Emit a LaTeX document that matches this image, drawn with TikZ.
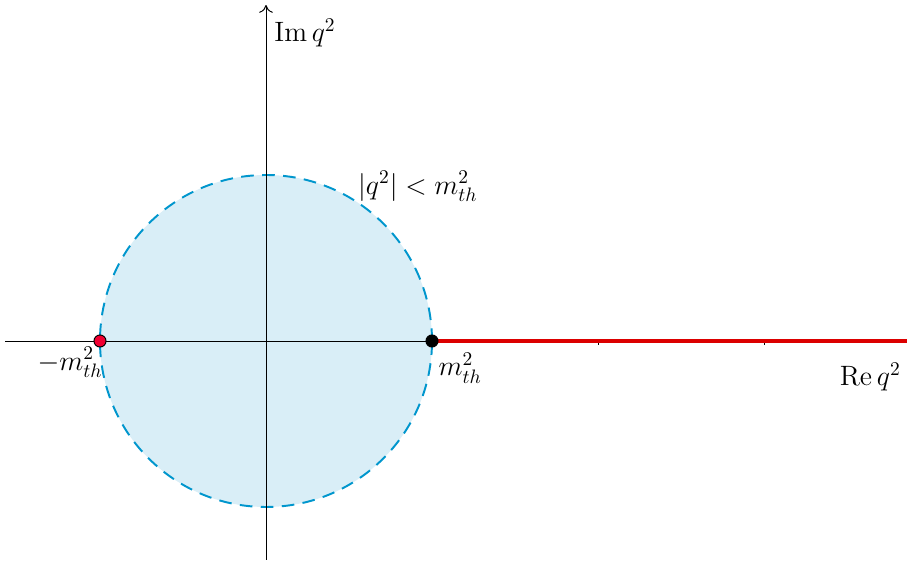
\documentclass[tikz,border=0pt]{standalone}
\usepackage{amsmath}
\usetikzlibrary{arrows.meta,positioning}
\definecolor{diskFill}{RGB}{217,238,247}
\definecolor{diskBorder}{RGB}{0,150,205}
\definecolor{cutRed}{RGB}{220,0,0}
\definecolor{poleRed}{RGB}{240,0,50}

\begin{document}
\begin{tikzpicture}[x=3cm, y=3cm,
    disk/.style={
      draw=diskBorder, fill=diskFill, line width=1pt,
      dash pattern=on 6.5pt off 4.3pt
    },
    axis/.style={line width=0.5pt, draw=black},
    cut/.style={line width=1.8pt, draw=cutRed},
    dot/.style={circle, draw=black, line width=0.5pt, inner sep=0pt, minimum size=6.2pt},
    lbl/.style={font=\Large}
  ]
    \useasboundingbox (-1.6024,-1.3253) rectangle (3.8614,2.0542);

    % disk |q^2| < m_th^2
    \draw[disk] (0,0) circle (1);

    % axes
    \coordinate (xl) at (-1.572,0);
    \coordinate (xr) at (3.8614,0);
    \coordinate (yb) at (0,-1.319);
    \coordinate (yt) at (0,2.024);
    \draw[axis] (xl) -- (xr);
    \draw[axis, -{To[length=4pt,width=7pt]}] (yb) -- (yt);
    \foreach \t in {2,3}
      \draw[axis] (\t,0) -- (\t,-2.2pt);

    % branch cut
    \coordinate (thr) at (1,0);
    \draw[cut] (thr) -- (xr);

    % points
    \node[dot, fill=poleRed] (mneg) at (-1,0) {};
    \node[dot, fill=black] (mpos) at (1,0) {};

    % labels
    \node[lbl] (im) at (0.235,1.855) {$\operatorname{Im} q^2$};
    \node[lbl] (re) at (3.64,-0.215) {$\operatorname{Re} q^2$};
    \node[lbl] (bound) at (0.915,0.93) {$|q^2| < m_{th}^2$};
    \node[lbl] (lneg) at (-1.18,-0.13) {$-m_{th}^2$};
    \node[lbl] (lpos) at (1.17,-0.165) {$m_{th}^2$};
  \end{tikzpicture}
\end{document}
